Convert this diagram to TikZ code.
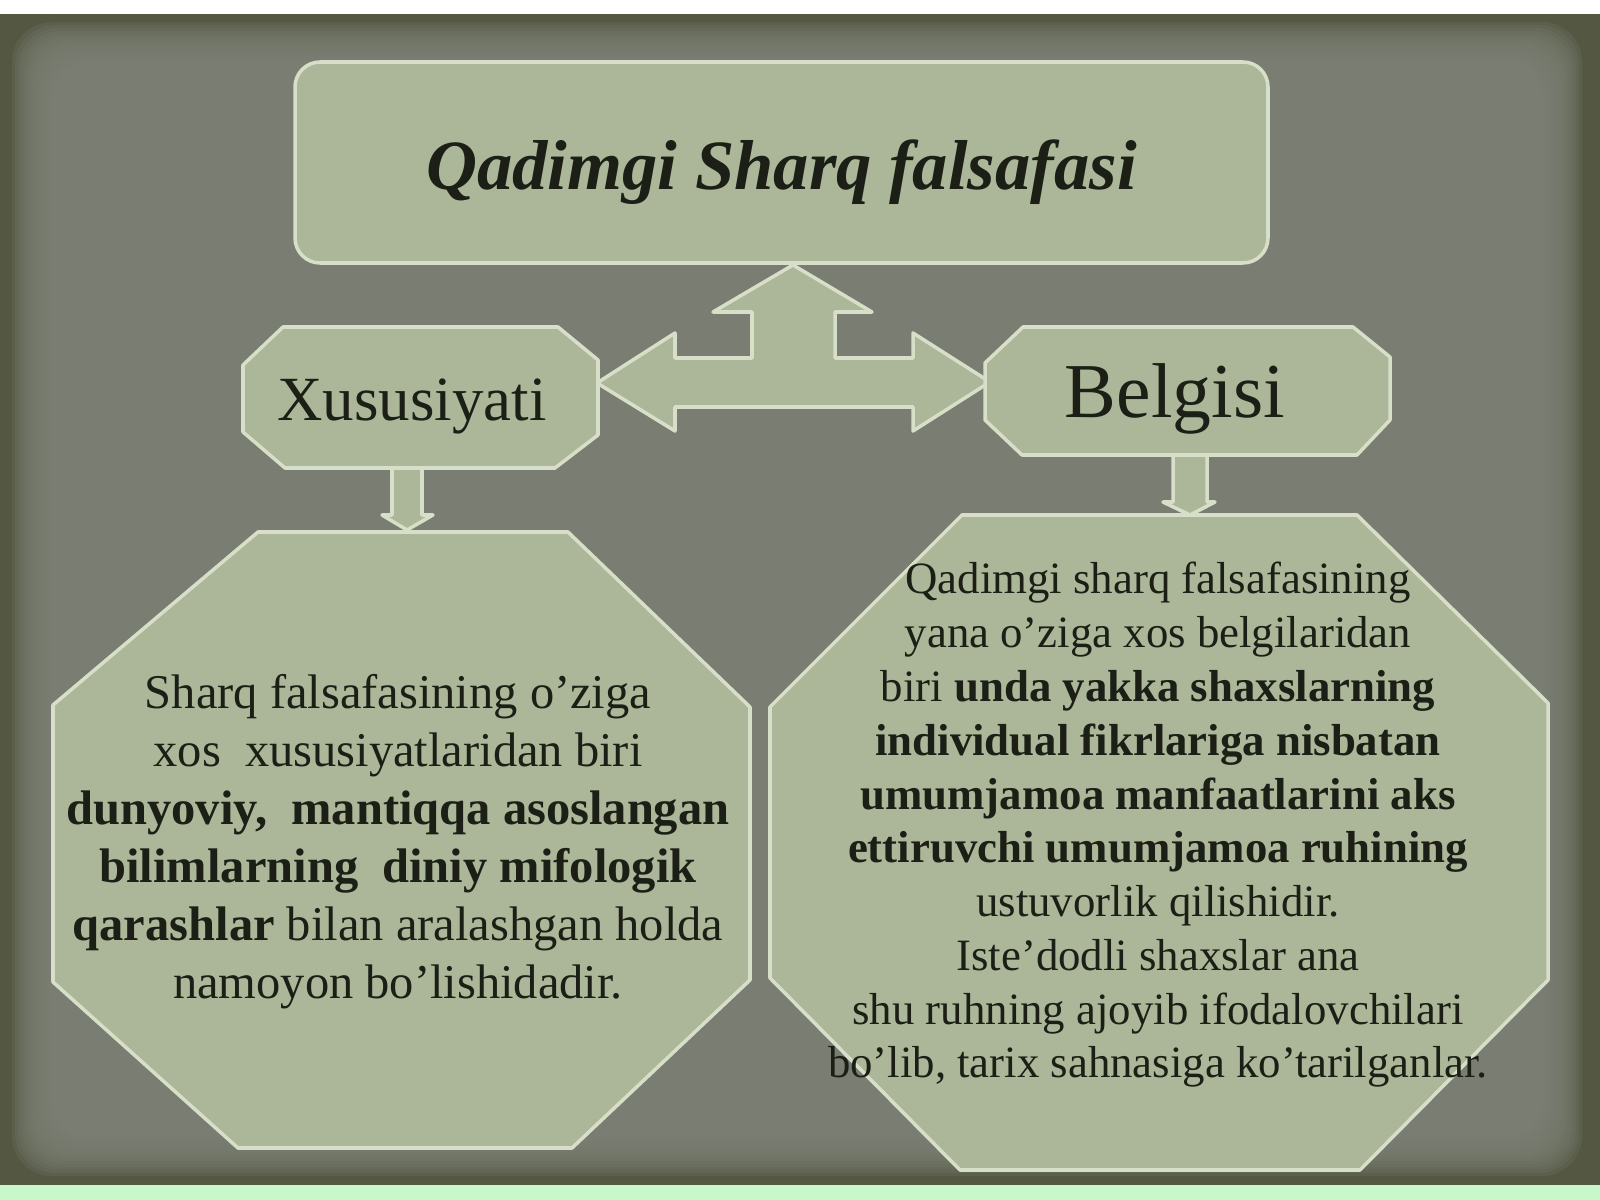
\documentclass[tikz,border=0pt]{standalone}
\usepackage{fontspec}
\setmainfont{Liberation Serif}
\usepackage{tikz}
\usetikzlibrary{calc}

\definecolor{frame_dark}{HTML}{545842}
\definecolor{slide_gray}{HTML}{7F8278}
\definecolor{box_fill}{HTML}{ACB698}
\definecolor{box_edge}{HTML}{D8DFC8}
\definecolor{ink}{HTML}{1B1F15}
\definecolor{mint}{HTML}{C8F7CC}

\begin{document}
\begin{tikzpicture}[x=0.1mm, y=-0.1mm,
        box_style/.style={fill=box_fill, draw=box_edge, line width=1pt, line join=round},
        title_style/.style={box_style, rounded corners=2.5mm, minimum width=9.73cm, minimum height=2.01cm, text=ink,
            font=\fontsize{20.1}{24}\selectfont\bfseries\itshape, text height=0.7cm, text depth=0.16cm},
        label_style/.style={text=ink, inner sep=0pt, anchor=base},
        body_style/.style={text=ink, inner sep=0pt, align=center}]

        \useasboundingbox (0,0) rectangle (1600,1200);

        \fill [white] (0,0) rectangle (1600,1200);
        \fill [frame_dark] (0,14) rectangle (1600,1185);
        \foreach \k in {0,...,13}
            \fill [slide_gray, opacity=0.18, rounded corners=4mm] (12+3*\k,22+3*\k) rectangle (1582-3*\k,1176-3*\k);
        \fill [mint] (0,1185) rectangle (1600,1200);

        \draw [box_style] (793,265) -- (872,312) -- (835,312) -- (835,358) -- (913,358) -- (913,333) -- (990,382)
            -- (913,431) -- (913,407) -- (675,407) -- (675,431) -- (597,383) -- (675,333) -- (675,358)
            -- (752,358) -- (752,312) -- (713,312) -- cycle;

        \draw [box_style] (392,466) -- (422,466) -- (422,515) -- (433,515) -- (407,530) -- (382,515) -- (392,515) -- cycle;

        \draw [box_style] (1173,453) -- (1207,453) -- (1207,502) -- (1215,502) -- (1190,515) -- (1163,502) -- (1173,502) -- cycle;

        \node [title_style] (title) at (781.5,162.5) {Qadimgi Sharq falsafasi};

        \draw [box_style] (283,327) -- (558,327) -- (598,360) -- (598,435) -- (555,468) -- (285,468) -- (243,432) -- (243,365) -- cycle;

        \draw [box_style] (1023,327) -- (1353,327) -- (1390,357) -- (1390,420) -- (1357,455) -- (1022,455) -- (985,420) -- (985,363) -- cycle;

        \draw [box_style] (258,532) -- (568,532) -- (750,707) -- (750,980) -- (572,1148) -- (238,1148) -- (53,982) -- (53,705) -- cycle;

        \draw [box_style] (962,515) -- (1357,515) -- (1548,703) -- (1548,980) -- (1360,1170) -- (960,1170) -- (770,978) -- (770,707) -- cycle;

        \node [label_style, font=\fontsize{17.9}{21}\selectfont] (xus) at (412,420) {Xususiyati};

        \node [label_style, font=\fontsize{22.1}{26}\selectfont] (bel) at (1175,417) {Belgisi};

        \node [body_style, font=\fontsize{13.8}{16.5}\selectfont] (xus_text) at (398,842) {Sharq falsafasining o’ziga\\
            xos\ \ xususiyatlaridan biri\\
            \textbf{dunyoviy,\ \ mantiqqa asoslangan}\\
            \textbf{bilimlarning\ \ diniy mifologik}\\
            \textbf{qarashlar} bilan aralashgan holda\\
            namoyon bo’lishidadir.};

        \node [body_style, font=\fontsize{12.75}{15.3}\selectfont] (bel_text) at (1158,825) {Qadimgi sharq falsafasining\\
            yana o’ziga xos belgilaridan\\
            biri \textbf{unda yakka shaxslarning}\\
            \textbf{individual fikrlariga nisbatan}\\
            \textbf{umumjamoa manfaatlarini aks}\\
            \textbf{ettiruvchi umumjamoa ruhining}\\
            ustuvorlik qilishidir.\\
            Iste’dodli shaxslar ana\\
            shu ruhning ajoyib ifodalovchilari\\
            bo’lib, tarix sahnasiga ko’tarilganlar.};

        \end{tikzpicture}
\end{document}
